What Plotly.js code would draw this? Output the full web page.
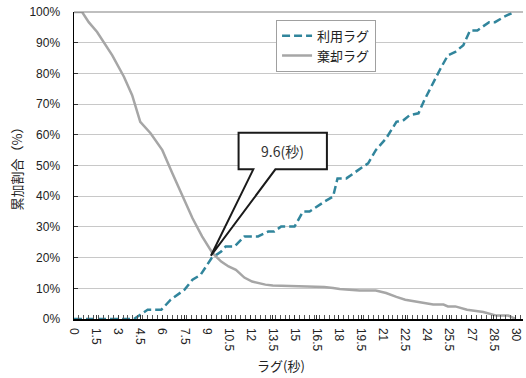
<!DOCTYPE html>
<html>
<head>
<meta charset="utf-8">
<script src="https://cdn.plot.ly/plotly-3.0.1.min.js"></script>
<style>html,body{margin:0;padding:0;background:#fff;}#chart{width:526px;height:378px;}</style>
</head>
<body>
<div id="chart"></div>
<script>
// 利用ラグ (usage lag) cumulative %
const useX = [0, 4.07, 5.0, 5.93, 6.57, 7.5, 8.05, 8.6, 9.34, 10.0, 10.3, 10.9, 11.57, 12.5, 13.2, 13.6, 14.07, 14.98, 15.55, 16.0, 17.0, 17.6, 17.9, 18.5, 19.3, 19.98, 20.5, 21.2, 21.9, 22.4, 22.8, 23.4, 23.8, 24.4, 24.9, 25.4, 25.9, 26.45, 26.9, 27.4, 28.2, 28.6, 29.2, 29.9];
const useY = [0, 0, 3, 3, 6.3, 9.5, 12.8, 14.4, 19.8, 22, 23.6, 23.6, 26.9, 26.9, 28.5, 28.5, 30.1, 30.1, 35, 35, 38.2, 39.9, 45.8, 45.8, 48.5, 50.7, 55, 58.8, 64.2, 64.8, 66.4, 67, 71.3, 77.2, 81.6, 85.9, 87, 89.2, 94, 94, 96.7, 96.7, 98.4, 100];
// 棄却ラグ (discard lag) cumulative %
const rejX = [0, 0.55, 1.0, 1.57, 2.6, 3.39, 3.95, 4.5, 5.2, 6.0, 6.68, 7.36, 8.05, 8.7, 9.4, 10.0, 10.5, 11.0, 11.57, 12.1, 13.0, 13.5, 14.6, 16.1, 17.0, 17.6, 18.05, 18.7, 19.4, 20.5, 21.2, 21.9, 22.5, 23.6, 24.4, 25.1, 25.4, 25.9, 26.7, 27.8, 28.7, 29.5, 30.0];
const rejY = [100, 100, 96.7, 93.5, 85.9, 78.9, 72.9, 64.2, 60.5, 55, 47.5, 39.9, 32.8, 26.9, 21.5, 18.7, 17.1, 16, 13.5, 12.2, 11.2, 10.9, 10.8, 10.6, 10.4, 10.1, 9.75, 9.5, 9.3, 9.3, 8.45, 7.2, 6.3, 5.4, 4.7, 4.7, 4.1, 4.1, 3.0, 2.3, 1.1, 1.1, 0];
const seriesNames = ['利用ラグ', '棄却ラグ'];
const xTickVals = [0, 1.5, 3, 4.5, 6, 7.5, 9, 10.5, 12, 13.5, 15, 16.5, 18, 19.5, 21, 22.5, 24, 25.5, 27, 28.5, 30];
const yTickVals = [0, 10, 20, 30, 40, 50, 60, 70, 80, 90, 100];
const yTickText = yTickVals.map(v => v + '%');
// callout: crossing point and label
const crossX = 9.3, crossY = 20.6;
const calloutText = '9.6(秒)';
const box = {x0: 11.18, x1: 17.18, y0: 48.75, y1: 60.7, b0: 12.18, b1: 13.68};

const tickFont = {family: 'Liberation Sans, Arial, sans-serif', size: 12, color: '#222'};
const jp = 'Noto Sans CJK JP, sans-serif';

const traces = [
  {x: useX, y: useY, name: seriesNames[0], type: 'scatter', mode: 'lines',
   line: {color: '#31859C', width: 2.5, dash: '8px,4px'}},
  {x: rejX, y: rejY, name: seriesNames[1], type: 'scatter', mode: 'lines',
   line: {color: '#A6A6A6', width: 2.5}}
];

const path = `M ${box.x0},${box.y1} L ${box.x1},${box.y1} L ${box.x1},${box.y0} L ${box.b1},${box.y0} L ${crossX},${crossY} L ${box.b0},${box.y0} L ${box.x0},${box.y0} Z`;

const layout = {
  width: 526, height: 378,
  margin: {l: 74, r: 3, t: 12, b: 59},
  paper_bgcolor: '#fff', plot_bgcolor: '#fff',
  showlegend: true,
  legend: {x: 0.45, y: 0.975, xanchor: 'left', yanchor: 'top',
    bgcolor: '#fff', bordercolor: '#A0A0A0', borderwidth: 1,
    font: {family: jp, size: 13, color: '#222'}, tracegroupgap: 0, itemwidth: 30},
  xaxis: {
    range: [0, 30.5], tickvals: xTickVals, ticktext: xTickVals.map(String),
    tickangle: 90, tickfont: tickFont,
    ticks: 'inside', ticklen: 4, tickcolor: '#333',
    minor: {dtick: 1/3, tick0: 0, ticks: 'inside', ticklen: 4, tickcolor: '#555', showgrid: false},
    showline: true, linecolor: '#000', linewidth: 1.5,
    showgrid: false, zeroline: false, ticklabelstandoff: 5
  },
  yaxis: {
    range: [0, 100], tickvals: yTickVals, ticktext: yTickText,
    tickfont: tickFont,
    ticks: 'inside', ticklen: 4, tickcolor: '#333',
    showline: true, linecolor: '#000', linewidth: 1.5,
    showgrid: true, gridcolor: '#C8C8C8', gridwidth: 1, zeroline: false,
    ticklabelstandoff: 10,
    title: {text: '累加割合（%）', font: {family: jp, size: 13, color: '#222'}, standoff: 4}
  },
  shapes: [
    {type: 'line', xref: 'paper', yref: 'paper', x0: 0, x1: 1, y0: 1, y1: 1,
     line: {color: '#808080', width: 1.2}},
    {type: 'path', xref: 'x', yref: 'y', path: path, layer: 'above',
     fillcolor: '#fff', line: {color: '#1a1a1a', width: 2}}
  ],
  annotations: [
    {xref: 'x', yref: 'y', x: (box.x0 + box.x1) / 2, y: (box.y0 + box.y1) / 2,
     text: calloutText, showarrow: false, font: {family: jp, size: 14, color: '#333'}},
    {xref: 'paper', yref: 'paper', x: 0.46, y: -0.15, yanchor: 'middle', xanchor: 'center',
     text: 'ラグ(秒)', showarrow: false, font: {family: jp, size: 13, color: '#222'}}
  ]
};

Plotly.newPlot('chart', traces, layout, {staticPlot: true, displayModeBar: false});
</script>
</body>
</html>
